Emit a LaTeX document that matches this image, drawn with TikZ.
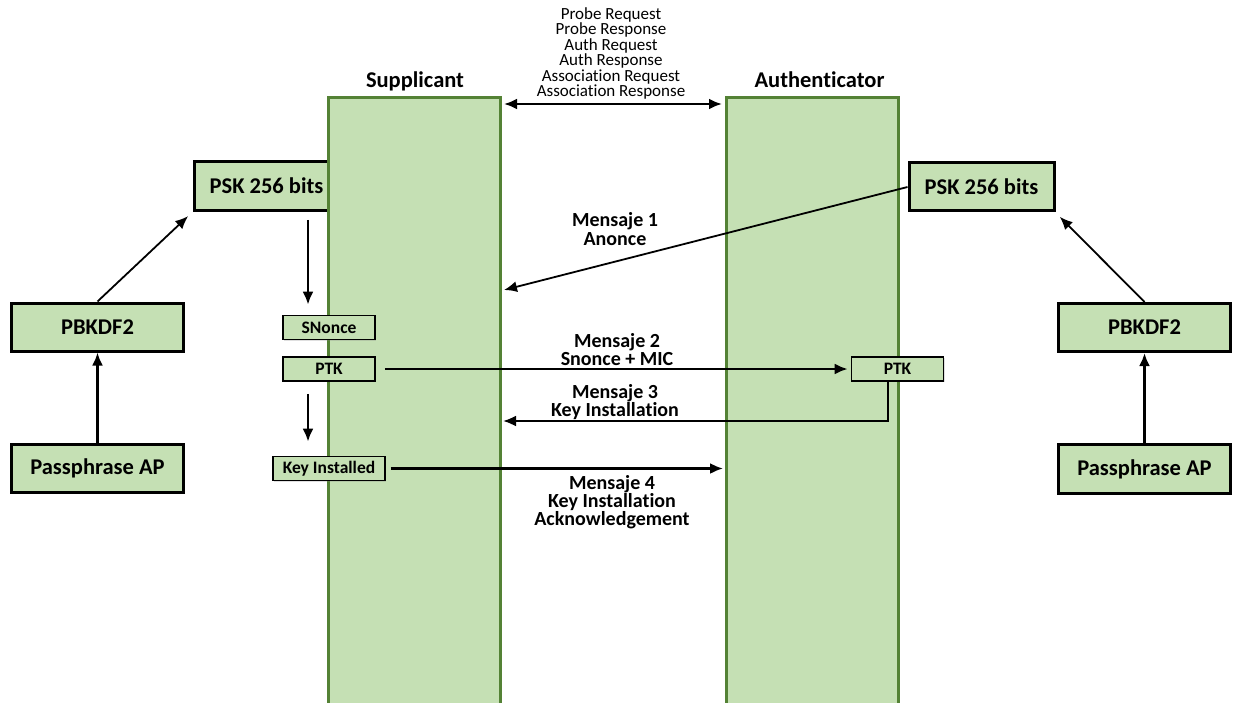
\documentclass[tikz,border=0pt]{standalone}
\usepackage{fontspec}
\setmainfont{Carlito}[Ligatures=NoCommon]
\usepackage{tikz}
\usetikzlibrary{arrows.meta}
\usetikzlibrary{shadows}
\definecolor{barfill}{HTML}{C5E0B4}
\definecolor{barline}{HTML}{548235}
\begin{document}
\begin{tikzpicture}[x=1pt,y=-1pt,>={Latex[length=13pt,width=11pt]},
    big node/.style={rectangle,draw=black,fill=barfill,line width=3pt,inner sep=0pt,
      drop shadow={opacity=0.25,shadow xshift=1.5pt,shadow yshift=-1.5pt},
      font=\fontsize{22.5}{27}\selectfont\bfseries},
    small node/.style={rectangle,draw=black,fill=barfill,line width=1.6pt,inner sep=0pt,
      drop shadow={opacity=0.25,shadow xshift=1pt,shadow yshift=-1pt},
      font=\fontsize{17.5}{20}\selectfont\bfseries},
    bar node/.style={rectangle,draw=barline,fill=barfill,line width=3pt,inner sep=0pt,
      minimum width=172pt,minimum height=620pt},
    msg/.style={align=center,inner sep=0pt,anchor=base,
      font=\fontsize{20}{18}\selectfont\bfseries},
    title/.style={inner sep=0pt,anchor=base,font=\fontsize{22.5}{27}\selectfont\bfseries}]
  \useasboundingbox (0,0) rectangle (1238,703);

  % key derivation, left side
  \node[big node,minimum width=145pt,minimum height=49pt] (pskL) at (266.5,186) {PSK 256 bits};
  \node[big node,minimum width=172pt,minimum height=48pt] (pbkL) at (97.5,327) {PBKDF2};
  \node[big node,minimum width=172pt,minimum height=48pt] (passL) at (97.5,468.5) {Passphrase AP};

  % key derivation, right side
  \node[big node,minimum width=145pt,minimum height=48pt] (pskR) at (981.5,187) {PSK 256 bits};
  \node[big node,minimum width=172pt,minimum height=48pt] (pbkR) at (1144.5,327.5) {PBKDF2};
  \node[big node,minimum width=172pt,minimum height=49pt] (passR) at (1144.5,469) {Passphrase AP};

  % the two stations
  \node[bar node] (supp) at (414.75,408) {};
  \node[bar node] (auth) at (812,408) {};
  \node[title] (suppT) at (415,88) {Supplicant};
  \node[title] (authT) at (819.5,88) {Authenticator};

  \node[small node,minimum width=92pt,minimum height=24pt] (snonce) at (329,327.5) {SNonce};
  \node[small node,minimum width=92pt,minimum height=24pt] (ptkL) at (329,369) {PTK};
  \node[small node,minimum width=112pt,minimum height=24pt] (keyi) at (329,468.5) {Key Installed};
  \node[small node,minimum width=92pt,minimum height=24pt] (ptkR) at (897.5,369) {PTK};

  % free ends on the bars
  \coordinate (assocL) at (504,104);
  \coordinate (assocR) at (722,104);
  \coordinate (m1end) at (504,290);
  \coordinate (m3end) at (503,421);
  \coordinate (m4end) at (723,468.5);

  % labels (base = last line)
  \node[align=center,inner sep=0pt,anchor=base,font=\fontsize{17}{15.5}\selectfont] (assocT) at (611,97)
    {Probe Request\\Probe Response\\Auth Request\\Auth Response\\Association Request\\Association Response};
  \node[msg] (m1T) at (615,245) {Mensaje 1\\Anonce};
  \node[msg] (m2T) at (617,365) {Mensaje 2\\Snonce + MIC};
  \node[msg] (m3T) at (615,416) {Mensaje 3\\Key Installation};
  \node[msg] (m4T) at (612,525) {Mensaje 4\\Key Installation\\Acknowledgement};

  % connectors
  \path[->,line width=2.6pt] (passL) edge (pbkL);
  \path[->,line width=2.6pt] (passR) edge (pbkR);
  \path[->,line width=1.8pt,shorten >=6pt] (pbkL.north) edge (pskL.south west);
  \path[->,line width=1.8pt,shorten >=6pt] (pbkR.north) edge (pskR.south east);
  \path[->,line width=2.6pt,shorten <=8pt,shorten >=10pt] ([xshift=41.5pt]pskL.south) edge ([xshift=-21pt]snonce.north);
  \path[->,line width=2.6pt,shorten <=12pt,shorten >=14pt] ([xshift=-21pt]ptkL.south) edge ([xshift=-21pt]keyi.north);
  \path[<->,line width=2.6pt] (assocL) edge (assocR);
  \path[->,line width=1.8pt] (pskR.west) edge (m1end);
  \path[->,line width=2.6pt,shorten <=9pt,shorten >=3pt] (ptkL.east) edge (ptkR.west);
  \draw[->,line width=2.2pt] ([xshift=-9.5pt]ptkR.south) |- (m3end);
  \path[->,line width=2.2pt,shorten <=5pt] (keyi.east) edge (m4end);
\end{tikzpicture}
\end{document}
